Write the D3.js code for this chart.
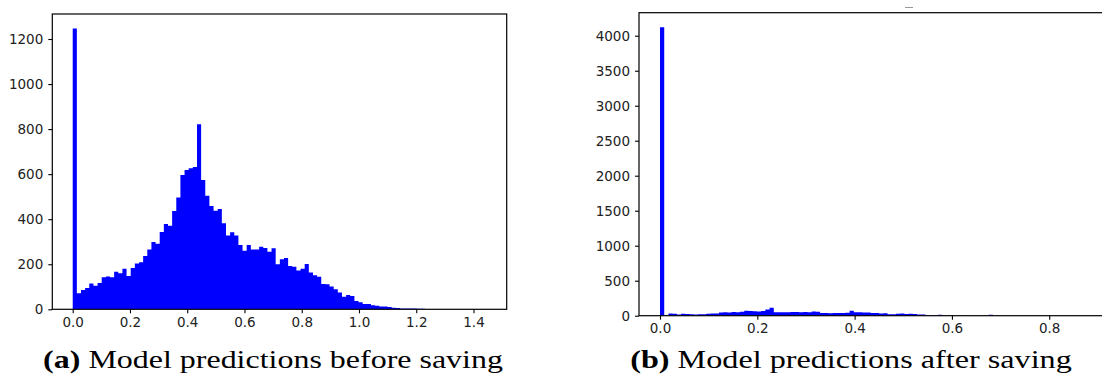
<!DOCTYPE html>
<html>
<head>
<meta charset="utf-8">
<script src="https://cdn.jsdelivr.net/npm/d3@7"></script>
<style>
  body { margin: 0; background: #fff; }
  svg { display: block; }
  .tick text { font-family: "DejaVu Sans", sans-serif; font-size: 13.5px; fill: #222; }
  .tick line { stroke: #000; }
  .caption { font-family: "Liberation Serif", serif; fill: #000; }
</style>
</head>
<body>
<svg id="chart" width="1102" height="383"></svg>
<script>
// histogram counts, 100 equal bins each
var beforeRange = [0, 1.447];
var beforeCounts = [
  1247, 71, 86, 95, 115, 105, 117, 142, 146, 142,
  167, 160, 180, 148, 183, 203, 209, 237, 266, 299,
  291, 343, 379, 371, 436, 496, 596, 618, 626, 632,
  822, 574, 504, 459, 438, 445, 382, 328, 342, 328,
  285, 260, 285, 265, 266, 278, 272, 256, 271, 200,
  222, 228, 192, 189, 172, 180, 201, 163, 151, 145,
  112, 111, 101, 89, 75, 56, 64, 59, 37, 31,
  24, 24, 18, 16, 12, 12, 10, 7, 6, 4,
  4, 3, 3, 2, 2, 1, 1, 1, 0, 0,
  1, 0, 0, 0, 0, 0, 0, 0, 0, 1
];

var afterRange = [0, 0.866];
var afterCounts = [
  4120, 8, 30, 28, 18, 28, 26, 20, 18, 20,
  22, 28, 30, 32, 45, 48, 44, 52, 50, 55,
  70, 66, 62, 60, 66, 88, 112, 50, 48, 50,
  50, 52, 54, 50, 52, 50, 60, 58, 40, 38,
  36, 38, 40, 40, 42, 72, 50, 50, 46, 44,
  40, 38, 30, 36, 20, 20, 28, 30, 26, 28,
  24, 18, 16, 10, 8, 6, 12, 4, 3, 2,
  2, 2, 1, 1, 1, 1, 1, 1, 12, 0,
  0, 0, 0, 0, 0, 0, 0, 0, 0, 0,
  0, 0, 0, 0, 0, 0, 0, 0, 0, 1
];

var beforeXTicks = [0, 0.2, 0.4, 0.6, 0.8, 1.0, 1.2, 1.4];
var beforeYTicks = [0, 200, 400, 600, 800, 1000, 1200];
var afterXTicks = [0, 0.2, 0.4, 0.6, 0.8];
var afterYTicks = [0, 500, 1000, 1500, 2000, 2500, 3000, 3500, 4000];

var captions = [
  { label: "(a)", text: " Model predictions before saving" },
  { label: "(b)", text: " Model predictions after saving" }
];

var svg = d3.select("#chart");

function drawHist(opt) {
  var g = svg.append("g");
  var n = opt.counts.length;
  var step = (opt.range[1] - opt.range[0]) / n;
  var bins = opt.counts.map(function(c, i) {
    return { x0: opt.range[0] + i * step, v: c };
  });
  // closing point so the last step gets its width
  bins.push({ x0: opt.range[1], v: 0 });

  var x = d3.scaleLinear().domain(opt.xDomain).range([opt.left, opt.right]);
  var y = d3.scaleLinear().domain(opt.yDomain).range([opt.bottom, opt.top]);

  g.append("defs").append("clipPath").attr("id", opt.id)
    .append("rect")
    .attr("x", opt.left).attr("y", opt.top)
    .attr("width", opt.right - opt.left).attr("height", opt.bottom - opt.top);

  var area = d3.area()
    .curve(d3.curveStepAfter)
    .x(function(d) { return x(d.x0); })
    .y0(y(0))
    .y1(function(d) { return y(d.v); });

  g.append("path")
    .datum(bins)
    .attr("clip-path", "url(#" + opt.id + ")")
    .attr("d", area)
    .attr("fill", "#0000ff");

  var xAxis = d3.axisBottom(x)
    .tickValues(opt.xTicks)
    .tickFormat(d3.format(".1f"))
    .tickSize(4)
    .tickPadding(4);
  var yAxis = d3.axisLeft(y)
    .tickValues(opt.yTicks)
    .tickFormat(d3.format("d"))
    .tickSize(4)
    .tickPadding(5);

  var gx = g.append("g").attr("transform", "translate(0," + opt.bottom + ")").call(xAxis);
  var gy = g.append("g").attr("transform", "translate(" + opt.left + ",0)").call(yAxis);
  gx.select(".domain").remove();
  gy.select(".domain").remove();
  gx.selectAll(".tick line").attr("stroke-width", 1.1);
  gy.selectAll(".tick line").attr("stroke-width", 1.1);

  // frame
  g.append("rect")
    .attr("x", opt.left).attr("y", opt.top)
    .attr("width", opt.right - opt.left).attr("height", opt.bottom - opt.top)
    .attr("fill", "none")
    .attr("stroke", "#000")
    .attr("stroke-width", 1.2);
}

drawHist({
  id: "clipA",
  counts: beforeCounts, range: beforeRange,
  xDomain: [-0.0713, 1.516], yDomain: [0, 1311],
  left: 52.3, right: 506.7, top: 14, bottom: 309.3,
  xTicks: beforeXTicks, yTicks: beforeYTicks
});

drawHist({
  id: "clipB",
  counts: afterCounts, range: afterRange,
  xDomain: [-0.0432, 0.9126], yDomain: [0, 4329],
  left: 639, right: 1104, top: 12.7, bottom: 315.7,
  xTicks: afterXTicks, yTicks: afterYTicks
});

// leftover mark of a clipped title above panel (b)
svg.append("line")
  .attr("x1", 905).attr("x2", 913)
  .attr("y1", 7.5).attr("y2", 7.5)
  .attr("stroke", "#999").attr("stroke-width", 1);

// captions: the LaTeX font is wider than Times, so stretch a little to match width
var capPos = [
  { cx: 273, w: 460 },
  { cx: 851, w: 442 }
];
captions.forEach(function(c, i) {
  var t = svg.append("text")
    .attr("class", "caption")
    .attr("x", 0)
    .attr("y", 0)
    .attr("text-anchor", "middle")
    .style("font-size", "25.5px");
  t.append("tspan").attr("font-weight", "bold").text(c.label);
  t.append("tspan").text(c.text);
  var w = t.node().getComputedTextLength();
  var sx = capPos[i].w / w;
  t.attr("transform", "translate(" + capPos[i].cx + ",368) scale(" + sx.toFixed(3) + ",1)");
});
</script>
</body>
</html>
